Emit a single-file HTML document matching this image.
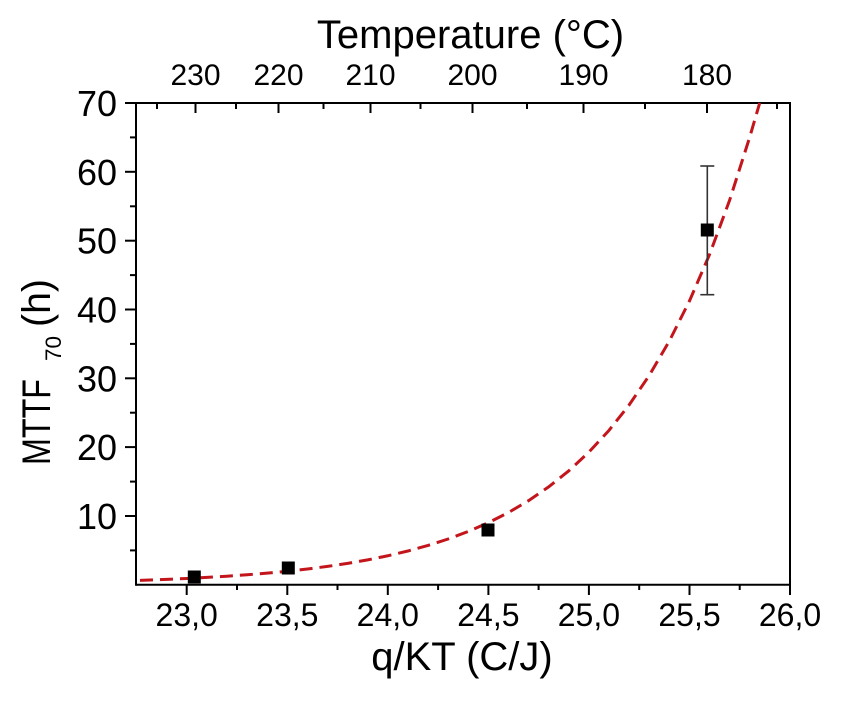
<!DOCTYPE html>
<html>
<head>
<meta charset="utf-8">
<style>
  html, body { margin: 0; padding: 0; background: #ffffff; }
  body { width: 844px; height: 704px; overflow: hidden; }
  svg { display: block; }
  text { font-family: "Liberation Sans", Arial, sans-serif; fill: #000; }
</style>
</head>
<body>
<svg width="844" height="704" viewBox="0 0 844 704" xmlns="http://www.w3.org/2000/svg">
  <rect x="0" y="0" width="844" height="704" fill="#ffffff"/>

  <!-- Frame -->
  <g stroke="#000" stroke-width="2" fill="none">
    <line x1="136" y1="103" x2="790" y2="103"/>
    <line x1="136" y1="584.8" x2="790" y2="584.8"/>
    <line x1="136" y1="102" x2="136" y2="585.8"/>
    <line x1="790" y1="102" x2="790" y2="585.8"/>
  </g>

  <!-- Left ticks (outward) -->
  <g stroke="#000" stroke-width="2">
    <line x1="125" y1="103" x2="136" y2="103"/>
    <line x1="125" y1="171.8" x2="136" y2="171.8"/>
    <line x1="125" y1="240.7" x2="136" y2="240.7"/>
    <line x1="125" y1="309.5" x2="136" y2="309.5"/>
    <line x1="125" y1="378.3" x2="136" y2="378.3"/>
    <line x1="125" y1="447.1" x2="136" y2="447.1"/>
    <line x1="125" y1="516" x2="136" y2="516"/>
    <!-- minors -->
    <line x1="130" y1="137.4" x2="136" y2="137.4"/>
    <line x1="130" y1="206.3" x2="136" y2="206.3"/>
    <line x1="130" y1="275.1" x2="136" y2="275.1"/>
    <line x1="130" y1="343.9" x2="136" y2="343.9"/>
    <line x1="130" y1="412.7" x2="136" y2="412.7"/>
    <line x1="130" y1="481.6" x2="136" y2="481.6"/>
    <line x1="130" y1="550.4" x2="136" y2="550.4"/>
  </g>

  <!-- Left tick labels -->
  <g font-size="36" text-anchor="end">
    <text x="117" y="116">70</text>
    <text x="117" y="184.8">60</text>
    <text x="117" y="253.7">50</text>
    <text x="117" y="322.5">40</text>
    <text x="117" y="391.3">30</text>
    <text x="117" y="460.1">20</text>
    <text x="117" y="529">10</text>
  </g>

  <!-- Bottom ticks (outward) -->
  <g stroke="#000" stroke-width="2">
    <line x1="186.7" y1="584.8" x2="186.7" y2="595"/>
    <line x1="287.3" y1="584.8" x2="287.3" y2="595"/>
    <line x1="387.8" y1="584.8" x2="387.8" y2="595"/>
    <line x1="488.4" y1="584.8" x2="488.4" y2="595"/>
    <line x1="588.9" y1="584.8" x2="588.9" y2="595"/>
    <line x1="689.5" y1="584.8" x2="689.5" y2="595"/>
    <line x1="790" y1="584.8" x2="790" y2="595"/>
    <!-- minors -->
    <line x1="237" y1="584.8" x2="237" y2="590"/>
    <line x1="337.5" y1="584.8" x2="337.5" y2="590"/>
    <line x1="438.1" y1="584.8" x2="438.1" y2="590"/>
    <line x1="538.6" y1="584.8" x2="538.6" y2="590"/>
    <line x1="639.2" y1="584.8" x2="639.2" y2="590"/>
    <line x1="739.7" y1="584.8" x2="739.7" y2="590"/>
  </g>

  <!-- Bottom tick labels -->
  <g font-size="32" text-anchor="middle">
    <text x="186.7" y="626">23,0</text>
    <text x="287.3" y="626">23,5</text>
    <text x="387.8" y="626">24,0</text>
    <text x="488.4" y="626">24,5</text>
    <text x="588.9" y="626">25,0</text>
    <text x="689.5" y="626">25,5</text>
    <text x="790" y="626">26,0</text>
  </g>

  <!-- Bottom title -->
  <text x="462" y="670" font-size="40" text-anchor="middle">q/KT (C/J)</text>

  <!-- Top ticks (inward) -->
  <g stroke="#000" stroke-width="2">
    <line x1="195.5" y1="103" x2="195.5" y2="113"/>
    <line x1="278.5" y1="103" x2="278.5" y2="113"/>
    <line x1="370.5" y1="103" x2="370.5" y2="113"/>
    <line x1="472.5" y1="103" x2="472.5" y2="113"/>
    <line x1="583.5" y1="103" x2="583.5" y2="113"/>
    <line x1="707" y1="103" x2="707" y2="113"/>
    <!-- minors -->
    <line x1="157" y1="103" x2="157" y2="109"/>
    <line x1="236" y1="103" x2="236" y2="109"/>
    <line x1="323.5" y1="103" x2="323.5" y2="109"/>
    <line x1="420.5" y1="103" x2="420.5" y2="109"/>
    <line x1="527" y1="103" x2="527" y2="109"/>
    <line x1="645" y1="103" x2="645" y2="109"/>
    <line x1="777" y1="103" x2="777" y2="109"/>
  </g>

  <!-- Top tick labels -->
  <g font-size="30" text-anchor="middle">
    <text x="195.5" y="85">230</text>
    <text x="278.5" y="85">220</text>
    <text x="370.5" y="85">210</text>
    <text x="472.5" y="85">200</text>
    <text x="583.5" y="85">190</text>
    <text x="707" y="85">180</text>
  </g>

  <!-- Top title -->
  <text x="470.5" y="48" font-size="40" text-anchor="middle">Temperature (°C)</text>

  <!-- Y-axis title (rotated) -->
  <g transform="rotate(-90)">
    <text x="-465" y="50" font-size="40" textLength="86" lengthAdjust="spacingAndGlyphs">MTTF</text>
    <text x="-361" y="61" font-size="22" textLength="25" lengthAdjust="spacingAndGlyphs">70</text>
    <text x="-327" y="50" font-size="40" textLength="48" lengthAdjust="spacingAndGlyphs">(h)</text>
  </g>

  <!-- Fit curve -->
  <polyline fill="none" stroke="#c3161c" stroke-width="3" stroke-dasharray="13 7"
    points="140,580.34 166.6,579.35 186.7,578.45 206.8,577.41 226.9,576.2 247,574.79 267.1,573.14 287.3,571.23 307.4,569 327.5,566.41 347.6,563.39 367.7,559.87 387.8,555.78 407.9,551.02 428,545.47 448.1,539.02 468.2,531.5 488.3,522.75 508.4,512.56 528.5,500.7 548.6,486.9 568.8,470.83 588.9,452.12 609,430.35 629.1,405 649.2,375.5 669.3,341.1 689.4,301.1 709.5,254.6 729.6,200.3 749.7,137.2 759.7,103"/>

  <!-- Error bar -->
  <g stroke="#333" stroke-width="1.6">
    <line x1="707.3" y1="166" x2="707.3" y2="294.7"/>
    <line x1="700.3" y1="166" x2="714.3" y2="166"/>
    <line x1="700.3" y1="294.7" x2="714.3" y2="294.7"/>
  </g>

  <!-- Data points -->
  <g fill="#000">
    <rect x="187.8" y="570.5" width="13" height="13"/>
    <rect x="281.8" y="561.5" width="13" height="13"/>
    <rect x="481.5" y="523.5" width="13" height="13"/>
    <rect x="700.8" y="223.5" width="13" height="13"/>
  </g>
</svg>
</body>
</html>
